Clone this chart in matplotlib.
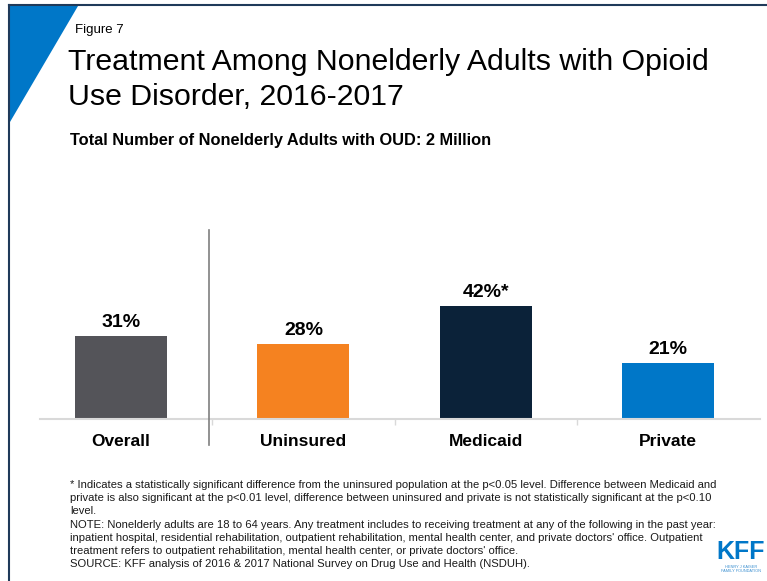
import matplotlib
matplotlib.use("Agg")
import matplotlib.pyplot as plt
from matplotlib.patches import Polygon
from matplotlib.lines import Line2D
from matplotlib import font_manager

categories = ["Overall", "Uninsured", "Medicaid", "Private"]
values = [31, 28, 42, 21]
value_labels = ["31%", "28%", "42%*", "21%"]
colors = ["#545459", "#F58220", "#0B2239", "#0077C8"]

title_lines = ["Treatment Among Nonelderly Adults with Opioid", "Use Disorder, 2016-2017"]
subtitle = "Total Number of Nonelderly Adults with OUD: 2 Million"
figure_tag = "Figure 7"
notes = [
    "* Indicates a statistically significant difference from the uninsured population at the p<0.05 level. Difference between Medicaid and",
    "private is also significant at the p<0.01 level, difference between uninsured and private is not statistically significant at the p<0.10",
    "level.",
    "NOTE: Nonelderly adults are 18 to 64 years. Any treatment includes to receiving treatment at any of the following in the past year:",
    "inpatient hospital, residential rehabilitation, outpatient rehabilitation, mental health center, and private doctors' office. Outpatient",
    "treatment refers to outpatient rehabilitation, mental health center, or private doctors' office.",
    "SOURCE: KFF analysis of 2016 & 2017 National Survey on Drug Use and Health (NSDUH).",
]

names = {f.name for f in font_manager.fontManager.ttflist}
sans = "Liberation Sans" if "Liberation Sans" in names else "DejaVu Sans"
plt.rcParams["font.family"] = [sans, "DejaVu Sans"]

W, H = 767, 581
fig = plt.figure(figsize=(W / 100, H / 100), dpi=100)
fig.patch.set_facecolor("white")


def fx(px):
    return px / W


def fy(py):
    return 1 - py / H


# frame and corner accent
navy = "#1F3A5A"
fig.add_artist(Line2D([fx(9), fx(9)], [fy(5), fy(581)], color=navy, lw=1.5))
fig.add_artist(Line2D([fx(9), fx(767)], [fy(5), fy(5)], color=navy, lw=1.5))
fig.add_artist(Polygon([[fx(10), fy(6)], [fx(78), fy(6)], [fx(10), fy(122)]],
                       closed=True, facecolor="#0077C8", edgecolor="none"))

fig.text(fx(75), fy(33), figure_tag, fontsize=9.5, va="baseline", ha="left")
for line, base in zip(title_lines, [70, 105]):
    fig.text(fx(68), fy(base), line, fontsize=21.8, va="baseline", ha="left")
fig.text(fx(70), fy(145), subtitle, fontsize=11.8, fontweight="bold", va="baseline", ha="left")

# bar panel
ax = fig.add_axes([fx(40), fy(419), fx(720), (419 - 230) / H])
x = list(range(len(categories)))
bars = ax.bar(x, values, width=0.505, color=colors)
ax.set_xlim(-0.445, 3.505)
ax.set_ylim(0, 70.5)
for b, lab in zip(bars, value_labels):
    ax.annotate(lab, (b.get_x() + b.get_width() / 2, b.get_height()),
                xytext=(0, 6.5), textcoords="offset points", ha="center", va="baseline",
                fontsize=14, fontweight="bold")
for s in ["top", "right", "left"]:
    ax.spines[s].set_visible(False)
ax.spines["bottom"].set_color("#D9D9D9")
ax.spines["bottom"].set_linewidth(1.5)
ax.set_yticks([])
ax.set_xticks(x, [""] * len(x))
ax.tick_params(axis="x", length=0)
ax.set_xticks([0.5, 1.5, 2.5], minor=True)
ax.tick_params(axis="x", which="minor", length=4, color="#D9D9D9", width=1)
for i, cat in enumerate(categories):
    ax.annotate(cat, (i, 0), xycoords=("data", "axes fraction"), xytext=(0, -19.5),
                textcoords="offset points", ha="center", va="baseline",
                fontsize=12.5, fontweight="bold", annotation_clip=False)

# divider between overall and coverage groups
fig.add_artist(Line2D([fx(209), fx(209)], [fy(230), fy(445)], color="#7F7F7F", lw=1.2))

# footnotes
for k, line in enumerate(notes):
    fig.text(fx(70), fy(488 + 13.2 * k), line, fontsize=8.15, va="baseline", ha="left",
             color="#1A1A1A")

# logo
fig.text(fx(741), fy(559), "KFF", fontsize=18, fontweight="bold", color="#0077C8",
         ha="center", va="baseline")
fig.text(fx(741), fy(569), "HENRY J KAISER\nFAMILY FOUNDATION", fontsize=2.8, color="#3A8FD0",
         ha="center", va="center", linespacing=1.0)

fig.savefig("out.png", dpi=100, facecolor="white")
